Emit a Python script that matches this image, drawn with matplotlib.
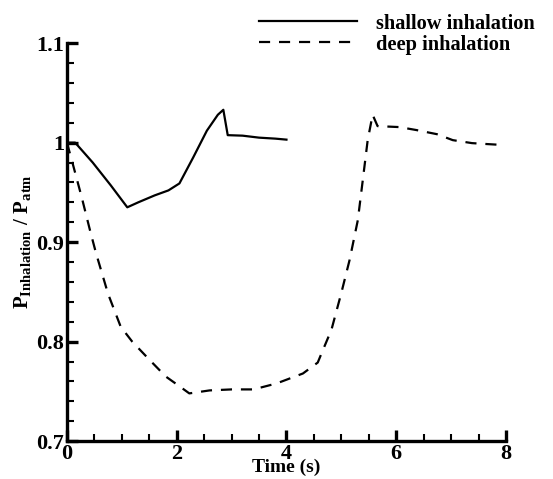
import numpy as np
import matplotlib
matplotlib.use("Agg")
from matplotlib import pyplot as plt
from matplotlib.ticker import MultipleLocator, FuncFormatter

plt.rcParams['font.family'] = ['Liberation Serif', 'DejaVu Serif']
plt.rcParams['font.weight'] = 'bold'
plt.rcParams['mathtext.fontset'] = 'custom'
plt.rcParams['mathtext.rm'] = 'Liberation Serif:bold'
plt.rcParams['mathtext.bf'] = 'Liberation Serif:bold'
plt.rcParams['mathtext.it'] = 'Liberation Serif:bold'

# shallow inhalation
t_shallow = [0.0, 0.15, 0.47, 0.8, 1.1, 1.3, 1.6, 1.85, 2.05, 2.3, 2.55, 2.75, 2.85,
             2.93, 3.2, 3.5, 3.8, 4.0]
p_shallow = [1.0, 1.0, 0.98, 0.957, 0.935, 0.940, 0.947, 0.952, 0.959, 0.985, 1.012,
             1.028, 1.033, 1.0075, 1.007, 1.005, 1.004, 1.003]

# deep inhalation
t_deep = [0.0, 0.1, 0.27, 0.42, 0.53, 0.75, 0.98, 1.19, 1.5, 1.8, 2.08, 2.23, 2.6,
          3.0, 3.4, 3.82, 4.3, 4.57, 4.66, 4.82, 5.0, 5.15, 5.3, 5.39, 5.48, 5.57,
          5.66, 6.06, 6.37, 6.74, 7.03, 7.38, 7.67, 7.98]
p_deep = [1.0, 0.98, 0.945, 0.912, 0.889, 0.848, 0.815, 0.80, 0.782, 0.765, 0.754,
          0.748, 0.751, 0.752, 0.752, 0.758, 0.768, 0.779, 0.791, 0.812, 0.849, 0.882,
          0.922, 0.962, 1.0025, 1.028, 1.0166, 1.0156, 1.0126, 1.0085, 1.0025, 0.9995,
          0.9985, 0.9975]

fig = plt.figure(figsize=(5.53, 4.79), dpi=100)
ax = fig.add_axes([0.121, 0.079, 0.794, 0.831])

ax.plot(t_shallow, p_shallow, color='black', lw=1.6, label='shallow inhalation')
ax.plot(t_deep, p_deep, color='black', lw=1.6, linestyle=(0, (5, 4)),
        label='deep inhalation')

ax.set_xlim(0, 8)
ax.set_ylim(0.7, 1.1)
ax.xaxis.set_major_locator(MultipleLocator(2))
ax.xaxis.set_minor_locator(MultipleLocator(0.5))
ax.yaxis.set_major_locator(MultipleLocator(0.1))
ax.yaxis.set_minor_locator(MultipleLocator(0.02))
ax.yaxis.set_major_formatter(FuncFormatter(lambda v, p: '%g' % round(v, 2)))

for s in ['top', 'right']:
    ax.spines[s].set_visible(False)
for s in ['left', 'bottom']:
    ax.spines[s].set_linewidth(2.4)

ax.tick_params(which='major', direction='in', length=8, width=2.4,
               labelsize=16, pad=2)
ax.tick_params(which='minor', direction='in', length=5, width=1.5)
for lab in ax.get_xticklabels() + ax.get_yticklabels():
    lab.set_fontweight('bold')

ax.set_xlabel('Time (s)', fontsize=14, fontweight='bold', labelpad=-4)
ax.set_ylabel(r'$\mathbf{P_{Inhalation}\ /\ P_{atm}}$', fontsize=15, labelpad=2)

fig.legend(loc='upper right', bbox_to_anchor=(1.0, 1.01), frameon=False,
           handlelength=4.8, handletextpad=0.9, labelspacing=0.05,
           prop={'family': 'Liberation Serif', 'weight': 'bold', 'size': 14.7})

fig.savefig('out.png', dpi=100)
